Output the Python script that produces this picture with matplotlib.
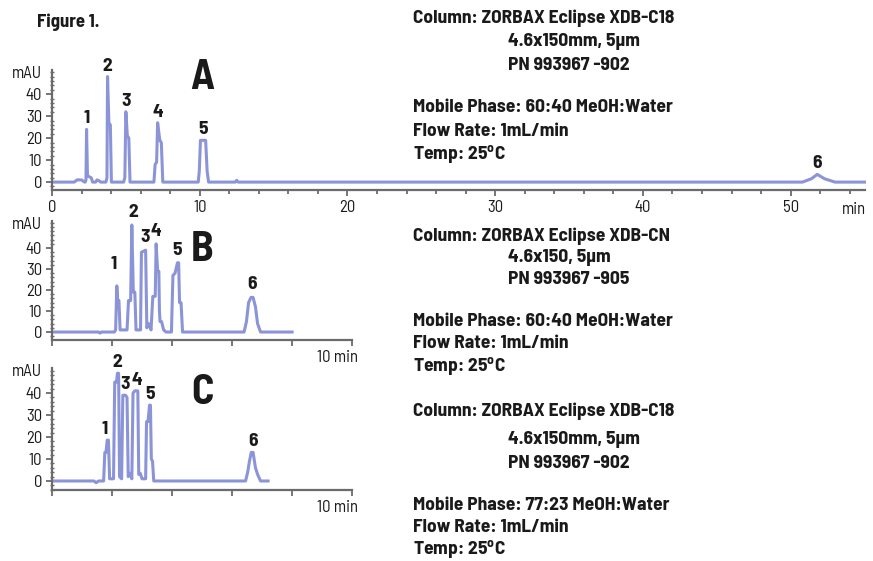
import numpy as np
import matplotlib
matplotlib.use('Agg')
import matplotlib.pyplot as plt
from matplotlib.ticker import MultipleLocator
import matplotlib.transforms as mtransforms

plt.rcParams['font.family'] = ['Barlow Semi Condensed', 'DejaVu Sans']
plt.rcParams['mathtext.fontset'] = 'custom'
plt.rcParams['mathtext.rm'] = 'Barlow Semi Condensed:bold'

# chromatogram A: ZORBAX Eclipse XDB-C18, 60:40 MeOH:Water
tA = [0, 1.5, 1.7, 2.0, 2.2, 2.25, 2.3, 2.34, 2.4, 2.5, 2.65, 2.75, 2.95, 3.05, 3.2, 3.3,
      3.65, 3.72, 3.76, 3.85, 3.95, 4.02, 4.85, 4.93, 5.0, 5.1, 5.2, 5.28,
      6.9, 6.98, 7.08, 7.15, 7.3, 7.4, 7.5, 9.9, 9.97, 10.05, 10.4, 10.5, 10.6,
      12.4, 12.5, 12.6, 50.8, 51.4, 51.8, 52.3, 53.0, 55.0]
yA = [0, 0, 1, 1, 0, 0, 1, 24, 3, 2.5, 2, 0, 0, 1, 0.5, 0,
      0, 2, 48, 27, 26, 0, 0, 2, 32, 21, 20, 0,
      0, 8, 9, 27, 19, 18, 0, 0, 5, 19, 19, 5, 0,
      0, 0.8, 0, 0, 1.5, 3.5, 1.5, 0, 0]
peaksA_t = [2.34, 3.76, 5.0, 7.15, 10.22, 51.8]
peaksA_h = [24, 48, 32, 27, 19, 3.5]

# chromatogram B: ZORBAX Eclipse XDB-CN, 60:40 MeOH:Water
tB = [0, 1.55, 1.6, 1.65, 2.08, 2.12, 2.16, 2.19, 2.23, 2.27, 2.5, 2.55, 2.62, 2.66,
      2.71, 2.76, 2.8, 2.95, 2.98, 3.12, 3.16, 3.22, 3.3, 3.36, 3.44, 3.47, 3.52,
      3.56, 3.58, 3.6, 3.65, 3.72, 3.8, 3.98, 4.03, 4.1, 4.18, 4.22, 4.25, 4.3, 4.35,
      6.4, 6.48, 6.55, 6.63, 6.7, 6.78, 6.85, 6.95, 8.0]
yB = [0, 0, -0.5, 0, 0, 1, 22, 15, 15, 1, 1, 15, 15, 51,
      19, 19, 1, 1, 38, 39, 2, 4, 1, 17, 17, 42, 29,
      29, 10, 5, 5, 1, 0, 0, 27, 28, 33, 33, 14, 14, 0,
      0, 5, 14, 16.5, 16.5, 12, 4, 0, 0]
peaksB_t = [2.05, 2.7, 3.1, 3.47, 4.15, 6.68]
peaksB_h = [26, 51, 39, 42, 33, 16.5]

# chromatogram C: ZORBAX Eclipse XDB-C18, 77:23 MeOH:Water
tC = [0, 1.4, 1.47, 1.55, 1.72, 1.76, 1.8, 1.84, 1.88, 1.92, 2.05, 2.09, 2.15, 2.18,
      2.22, 2.25, 2.32, 2.36, 2.45, 2.5, 2.54, 2.6, 2.66, 2.7, 2.76, 2.86, 2.89,
      2.94, 3.0, 3.12, 3.15, 3.2, 3.25, 3.28, 3.31, 3.35, 3.39,
      6.45, 6.52, 6.58, 6.64, 6.7, 6.78, 6.85, 6.95, 7.2]
yC = [0, 0, -0.8, 0, 0, 13, 13, 18.6, 18.6, 1, 1, 45, 45, 49,
      49, 2, 1, 39, 39, 38, 2, 3.5, 1, 40, 41, 41, 3,
      3.5, 1, 1, 27, 27, 34.5, 34.5, 10, 9, 0,
      0, 4, 9, 13, 13, 6, 3, 0, 0]
peaksC_t = [1.77, 2.17, 2.45, 2.83, 3.25, 6.7]
peaksC_h = [18.6, 49, 39, 41, 34.5, 13]

textA = ["Column: ZORBAX Eclipse XDB-C18", "4.6x150mm, 5µm", "PN 993967 -902",
         "Mobile Phase: 60:40 MeOH:Water", "Flow Rate: 1mL/min", "Temp: 25$^{\\mathregular{o}}$C"]
textB = ["Column: ZORBAX Eclipse XDB-CN", "4.6x150, 5µm", "PN 993967 -905",
         "Mobile Phase: 60:40 MeOH:Water", "Flow Rate: 1mL/min", "Temp: 25$^{\\mathregular{o}}$C"]
textC = ["Column: ZORBAX Eclipse XDB-C18", "4.6x150mm, 5µm", "PN 993967 -902",
         "Mobile Phase: 77:23 MeOH:Water", "Flow Rate: 1mL/min", "Temp: 25$^{\\mathregular{o}}$C"]

W, H = 873, 561
trace_color = '#8c94d8'
axis_color = '#6b6b6b'
text_color = '#1a1a1a'

fig = plt.figure(figsize=(W / 100, H / 100), dpi=100)


def px_axes(x0, x1, ybot, ytop):
    return fig.add_axes([x0 / W, 1 - ybot / H, (x1 - x0) / W, (ybot - ytop) / H])


def style(ax, xmax, xlim, ylim):
    ax.set_xlim(*xlim)
    ax.set_ylim(*ylim)
    for s in ['top', 'right']:
        ax.spines[s].set_visible(False)
    for s in ['left', 'bottom']:
        ax.spines[s].set_color(axis_color)
        ax.spines[s].set_linewidth(1.6)
    ax.spines['bottom'].set_bounds(0, xmax)
    ax.set_yticks([0, 10, 20, 30, 40])
    ax.yaxis.set_minor_locator(MultipleLocator(2))
    ax.tick_params(axis='y', which='major', direction='out', length=4, width=1.3,
                   color=axis_color, labelsize=12, labelcolor=text_color, pad=3)
    ax.tick_params(axis='y', which='minor', direction='inout', length=3, width=1,
                   color=axis_color)
    ax.tick_params(axis='x', which='both', direction='out', length=4, width=1.3,
                   color=axis_color, labelsize=12, labelcolor=text_color, pad=3)
    ax.patch.set_alpha(0)
    ax.annotate('mAU', (0, ylim[1] - 1.5), xytext=(-7, 0), textcoords='offset points',
                ha='right', va='center', fontsize=12, color=text_color, annotation_clip=False)


def label_peaks(ax, pt, ph, dy):
    for i, (t, h) in enumerate(zip(pt, ph)):
        ax.annotate(str(i + 1), (t, h), xytext=(0, dy), textcoords='offset points',
                    ha='center', va='bottom', fontsize=14, fontweight='bold',
                    color=text_color, annotation_clip=False)


# panel A
axA = px_axes(52, 866, 190, 70)
axA.plot(tA, yA, color=trace_color, lw=2.2)
style(axA, 55, (0, 55.1), (-3.6, 51))
axA.set_xticks([0, 10, 20, 30, 40, 50])
axA.xaxis.set_minor_locator(MultipleLocator(2))
axA.tick_params(axis='x', which='minor', length=3)
axA.text(54.3, -0.1, 'min', transform=mtransforms.blended_transform_factory(
    axA.transData, axA.transAxes), ha='center', va='top', fontsize=12, color=text_color)
label_peaks(axA, peaksA_t, peaksA_h, 1.5)

# panel B
axB = px_axes(52, 353, 340, 221)
axB.plot(tB, yB, color=trace_color, lw=2.2)
style(axB, 10, (0, 10.03), (-3.8, 52.9))
axB.xaxis.set_major_locator(MultipleLocator(2))
axB.set_xticklabels([])
axB.text(10.2, -0.08, '10 min', transform=mtransforms.blended_transform_factory(
    axB.transData, axB.transAxes), ha='right', va='top', fontsize=12, color=text_color)
label_peaks(axB, peaksB_t, peaksB_h, 3)

# panel C
axC = px_axes(52, 353, 490, 368)
axC.plot(tC, yC, color=trace_color, lw=2.2)
style(axC, 10, (0, 10.03), (-4.1, 51.4))
axC.xaxis.set_major_locator(MultipleLocator(2))
axC.set_xticklabels([])
axC.text(10.2, -0.08, '10 min', transform=mtransforms.blended_transform_factory(
    axC.transData, axC.transAxes), ha='right', va='top', fontsize=12, color=text_color)
label_peaks(axC, peaksC_t, peaksC_h, 1.5)

# panel letters
for letter, ypx in [('A', 78), ('B', 250), ('C', 393)]:
    fig.text(202 / W, 1 - ypx / H, letter, ha='center', va='center', fontsize=30,
             fontweight='bold', color=text_color)

fig.text(37 / W, 1 - 22 / H, 'Figure 1.', ha='left', va='center', fontsize=13.5,
         fontweight='bold', color=text_color)

# method descriptions
blocks = [(textA, [18, 42, 65, 108, 131, 155]),
          (textB, [236, 257, 279, 322, 344, 367]),
          (textC, [411, 439, 463, 506, 528, 550])]
for lines, ys in blocks:
    for i, (s, ypx) in enumerate(zip(lines, ys)):
        xpx = 508 if i in (1, 2) else 413
        fig.text(xpx / W, 1 - ypx / H, s, ha='left', va='center', fontsize=14,
                 fontweight='bold', color=text_color)

plt.savefig('out.png', dpi=100)
